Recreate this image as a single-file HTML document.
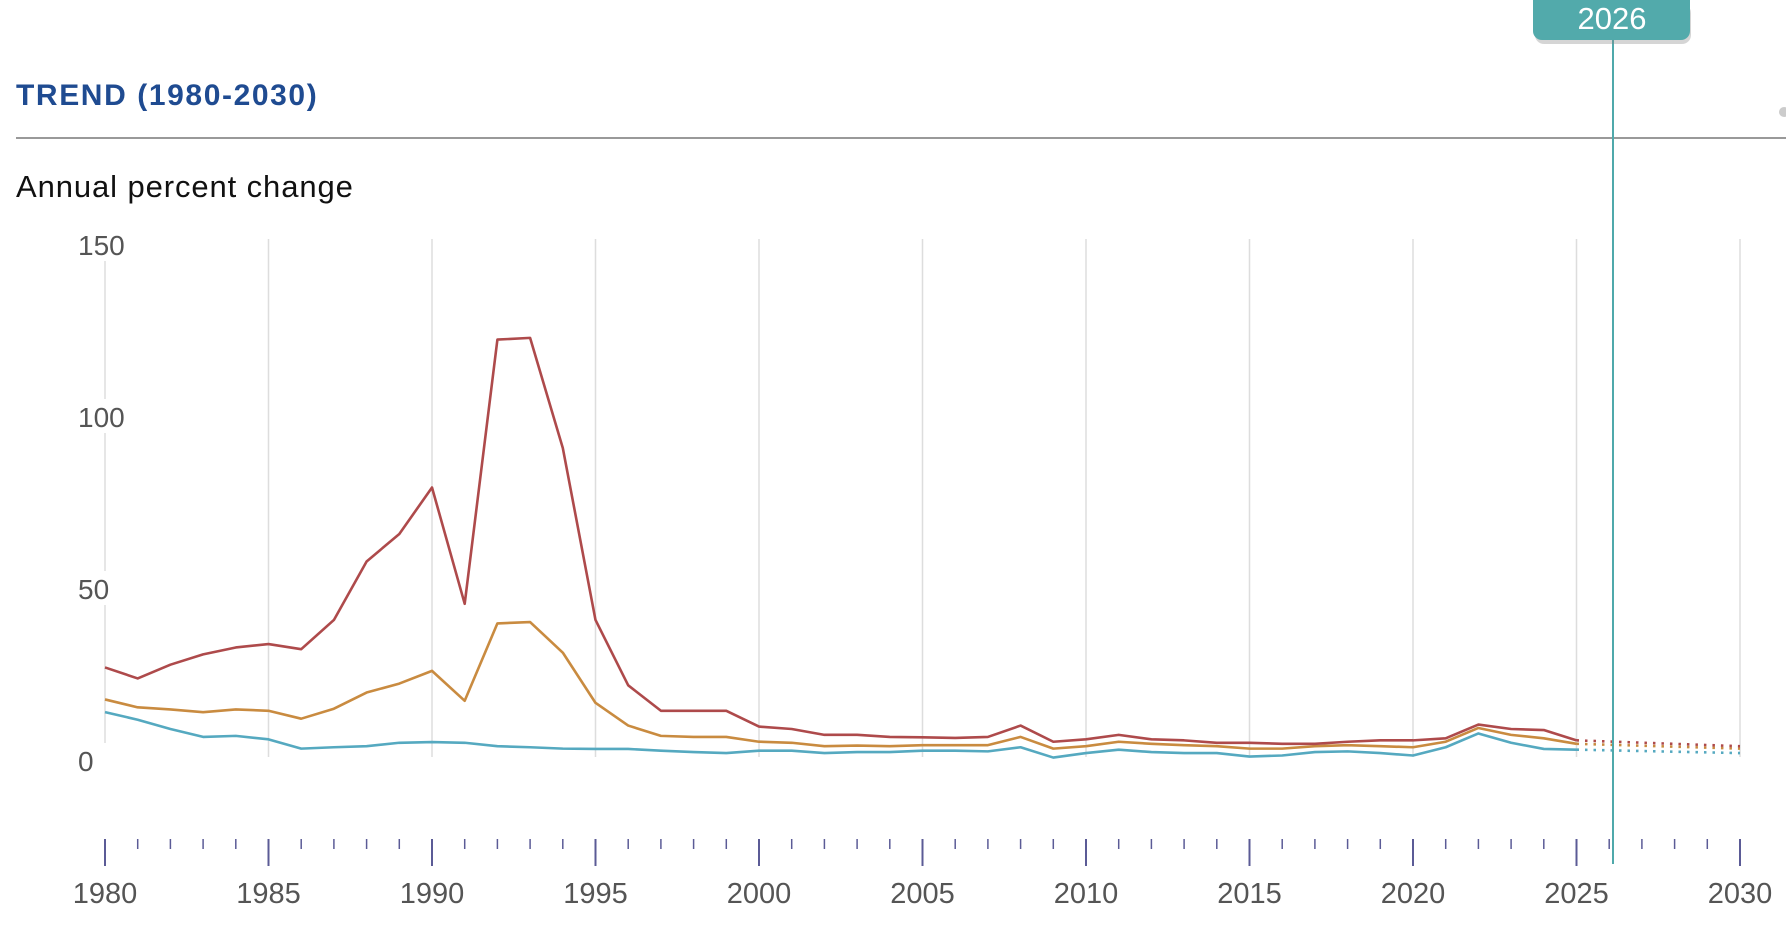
<!DOCTYPE html>
<html><head><meta charset="utf-8"><style>
html,body{margin:0;padding:0;background:#fff;width:1786px;height:940px;overflow:hidden}
svg{display:block}
text{font-family:"Liberation Sans",sans-serif}
</style></head><body>
<svg id="s" width="1786" height="940" xmlns="http://www.w3.org/2000/svg">
<text x="16" y="105" font-size="30" font-weight="bold" fill="#1f4b91" letter-spacing="1.6">TREND (1980-2030)</text>
<line x1="16" y1="138" x2="1786" y2="138" stroke="#999" stroke-width="2"/>
<text x="16" y="197" font-size="31" fill="#111" letter-spacing="0.9">Annual percent change</text>
<g id="g"></g>
<line x1="1613" y1="38" x2="1613" y2="864" stroke="#4fa9ab" stroke-width="2"/>
<rect x="1535" y="4" width="156" height="40" rx="9" fill="#888" opacity="0.35"/>
<rect x="1533" y="-10" width="157" height="50" rx="9" fill="#52aaab"/>
<text x="1612" y="29" font-size="31" fill="#fff" text-anchor="middle">2026</text>
<circle cx="1784" cy="112" r="5" fill="#ccc"/>
</svg>
<script>
const g=document.getElementById('g');
const X=y=>105+(y-1980)*32.7, Y=v=>761-v*3.44;
let h='';
for(let yr=1980;yr<=2030;yr+=5){h+=`<line x1="${X(yr)}" y1="239" x2="${X(yr)}" y2="757" stroke="#ddd" stroke-width="1.5"/>`;}
[150,100,50,0].forEach(v=>{h+=`<rect x="76" y="${Y(v)-18}" width="56" height="34" fill="#fff"/><text x="78" y="${Y(v)+10}" font-size="28" fill="#555">${v}</text>`;});
for(let yr=1980;yr<=2030;yr++){const m=yr%5==0;h+=`<line x1="${X(yr)}" y1="839" x2="${X(yr)}" y2="${m?866:849}" stroke="#5b5b96" stroke-width="${m?2:1.5}"/>`;
if(m)h+=`<text x="${X(yr)}" y="903" font-size="29" fill="#555" text-anchor="middle">${yr}</text>`;}
const red=[27.2,24,28,31,33,34,32.5,41,58,66,79.5,45.7,122.5,123,91,41,22,14.6,14.6,14.6,10,9.3,7.6,7.6,7,6.9,6.7,7,10.3,5.6,6.3,7.6,6.3,6,5.3,5.3,5,5,5.6,6,6,6.6,10.6,9.3,9,6];
const ora=[17.9,15.6,15,14.2,15,14.6,12.3,15.2,19.9,22.5,26.2,17.5,40,40.4,31.5,16.9,10.3,7.3,7,7,5.6,5.3,4.3,4.5,4.3,4.6,4.6,4.6,7,3.6,4.3,5.6,5,4.6,4.3,3.6,3.6,4.3,4.6,4.3,4,5.6,9.6,7.6,6.6,5];
const cya=[14.2,12,9.3,7,7.3,6.3,3.6,4,4.3,5.3,5.5,5.3,4.3,4,3.6,3.5,3.5,3,2.6,2.3,3,3,2.3,2.6,2.6,3,3,2.8,4,1,2.3,3.3,2.6,2.3,2.3,1.3,1.6,2.6,2.8,2.3,1.6,4,8,5.3,3.5,3.3];
function line(d,c,end){const p=d.map((v,i)=>X(1980+i)+','+Y(v)).join(' ');
h+=`<polyline points="${p}" fill="none" stroke="${c}" stroke-width="2.6" stroke-linejoin="round"/>`;
h+=`<line x1="${X(2025)}" y1="${Y(d[45])}" x2="${X(2030)}" y2="${Y(end)}" stroke="${c}" stroke-width="2.6" stroke-dasharray="2.5 6"/>`;}
line(cya,'#55a9c0',2.3);line(ora,'#c98b40',3.6);line(red,'#ae4a4b',4.3);
g.innerHTML=h;
</script>
</body></html>
